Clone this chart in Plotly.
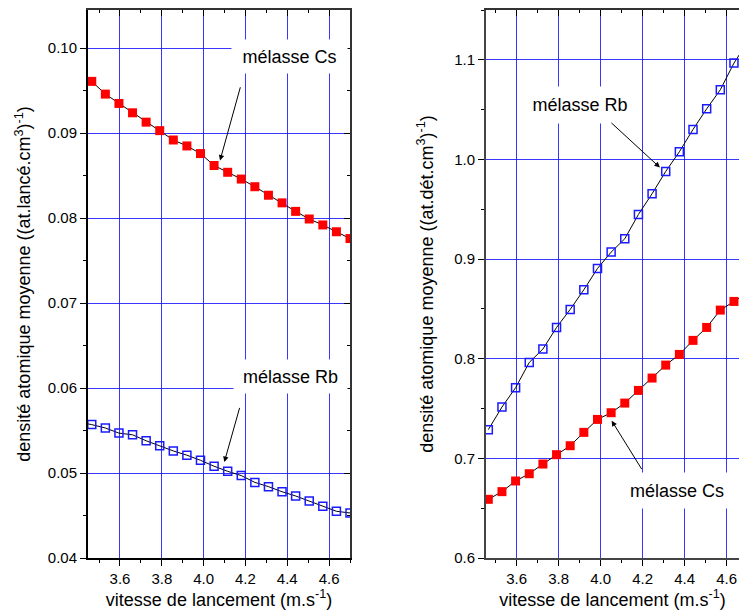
import plotly.graph_objects as go

# ---- data ----
vitesse = [3.465, 3.530, 3.595, 3.660, 3.725, 3.790, 3.855, 3.920, 3.985, 4.050,
           4.115, 4.180, 4.245, 4.310, 4.375, 4.440, 4.505, 4.570, 4.635, 4.700]
vitesse_g = [3.400] + vitesse

# left panel: density per launched atom
cs_lance = [0.0978, 0.0961, 0.0946, 0.0935, 0.0924, 0.0913, 0.0903, 0.0892, 0.0885, 0.0876, 0.0862,
            0.0854, 0.0846, 0.0837, 0.0827, 0.0818, 0.0808, 0.0799, 0.0792, 0.0784, 0.0776]
rb_lance = [0.0560, 0.0557, 0.0553, 0.0547, 0.0545, 0.0538, 0.0532, 0.0526, 0.0521, 0.0515, 0.0508,
            0.0502, 0.0497, 0.0489, 0.0484, 0.0478, 0.0473, 0.0467, 0.0461, 0.0455, 0.0453]

# right panel: density per detected atom
rb_det = [0.7288, 0.7515, 0.7709, 0.7963, 0.8097, 0.8314, 0.8495, 0.8692, 0.8906, 0.9070,
          0.9204, 0.9448, 0.9656, 0.9880, 1.0077, 1.0301, 1.0508, 1.0699, 1.0967, 1.1180]
cs_det = [0.6589, 0.6666, 0.6773, 0.6846, 0.6943, 0.7037, 0.7127, 0.7261, 0.7391, 0.7458,
          0.7555, 0.7682, 0.7806, 0.7936, 0.8043, 0.8184, 0.8314, 0.8488, 0.8575, 0.8660]

x_ticks = [3.6, 3.8, 4.0, 4.2, 4.4, 4.6]
y_ticks_g = [0.04, 0.05, 0.06, 0.07, 0.08, 0.09, 0.10]
y_ticks_d = [0.6, 0.7, 0.8, 0.9, 1.0, 1.1]

FONT = "Liberation Sans, Arial, sans-serif"
RED = "#ff0000"
BLUE = "#1a1aff"
GRID = "rgba(20,20,255,0.85)"

fig = go.Figure()

def add_series(x, y, xa, ya, filled, color):
    fig.add_trace(go.Scatter(
        x=x, y=y, xaxis=xa, yaxis=ya, mode="lines+markers",
        line=dict(color="black", width=1),
        marker=dict(symbol="square" if filled else "square-open", size=9 if filled else 8,
                    color=color, line=dict(color=color, width=0 if filled else 1.5)),
        showlegend=False, cliponaxis=True))

add_series(vitesse_g, cs_lance, "x", "y", True, RED)
add_series(vitesse_g, rb_lance, "x", "y", False, BLUE)
add_series(vitesse, rb_det, "x2", "y2", False, BLUE)
add_series(vitesse, cs_det, "x2", "y2", True, RED)

# dummy traces so the mirror axes are drawn
for xa, ya in [("x3", "y"), ("x", "y3"), ("x4", "y2")]:
    fig.add_trace(go.Scatter(x=[None], y=[None], xaxis=xa, yaxis=ya, showlegend=False,
                             hoverinfo="skip"))

W = 739.0
dom_g = [88 / W, 350 / W]
dom_d = [486 / W, 1.0]
rng_xg = [3.447, 4.700]
rng_xd = [3.454, 4.659]
rng_yg = [0.04, 0.1045]
rng_yd = [0.6, 1.150]

tickfont = dict(family=FONT, size=15, color="black")
titlefont = dict(family=FONT, size=18, color="black")

def xaxis(dom, rng, anchor, linecolor):
    return dict(domain=dom, range=rng, anchor=anchor, tickvals=x_ticks,
                ticktext=[f"{v:.1f}" for v in x_ticks], ticks="outside", ticklen=6,
                tickwidth=1.2, tickcolor="black", tickfont=tickfont,
                minor=dict(dtick=0.1, tick0=3.5, ticks="outside", ticklen=3,
                           tickcolor="black", tickwidth=1.2, showgrid=False),
                showgrid=True, gridcolor=GRID, gridwidth=1, zeroline=False,
                showline=True, linecolor=linecolor, linewidth=2,
                title=dict(text="vitesse de lancement (m.s<sup>-1</sup>)", font=titlefont,
                           standoff=2))

def yaxis(rng, anchor, ticks, fmt, minor_dt, title, linecolor, standoff):
    return dict(domain=[0, 1], range=rng, anchor=anchor, tickvals=ticks,
                ticktext=[fmt.format(v) for v in ticks], ticks="outside", ticklen=6,
                tickwidth=1.2, tickcolor="black", tickfont=tickfont,
                minor=dict(dtick=minor_dt, tick0=rng[0], ticks="outside", ticklen=3,
                           tickcolor="black", tickwidth=1.2, showgrid=False),
                showgrid=True, gridcolor=GRID, gridwidth=1, zeroline=False,
                showline=True, linecolor=linecolor, linewidth=2,
                title=dict(text=title, font=titlefont, standoff=standoff))

def mirror_x(dom, rng, anchor, overlay):
    return dict(domain=dom, range=rng, anchor=anchor, overlaying=overlay, side="top",
                tickvals=x_ticks, showticklabels=False, ticks="inside", ticklen=6,
                tickwidth=1.2, tickcolor="black",
                minor=dict(dtick=0.1, tick0=3.5, ticks="inside", ticklen=3,
                           tickcolor="black", tickwidth=1.2, showgrid=False),
                showgrid=False, zeroline=False, showline=True, linecolor="#333333",
                linewidth=2)

fig.update_layout(
    width=739, height=611,
    margin=dict(l=0, r=0, t=10, b=53),
    paper_bgcolor="white", plot_bgcolor="white",
    font=dict(family=FONT, color="black"),
    xaxis=xaxis(dom_g, rng_xg, "y", "black"),
    yaxis=yaxis(rng_yg, "x", y_ticks_g, "{:.2f}", 0.005,
                "densité atomique moyenne ((at.lancé.cm<sup>3</sup>)<sup>-1</sup>)", "black", 12),
    xaxis2=xaxis(dom_d, rng_xd, "y2", "#444444"),
    yaxis2=yaxis(rng_yd, "x2", y_ticks_d, "{:.1f}", 0.05,
                 "densité atomique moyenne ((at.dét.cm<sup>3</sup>)<sup>-1</sup>)", "#444444", 16),
    xaxis3=mirror_x(dom_g, rng_xg, "y", "x"),
    xaxis4=mirror_x(dom_d, rng_xd, "y2", "x2"),
    yaxis3=dict(domain=[0, 1], range=rng_yg, anchor="x", overlaying="y", side="right",
                tickvals=y_ticks_g, showticklabels=False, ticks="inside", ticklen=6,
                tickwidth=1.2, tickcolor="black",
                minor=dict(dtick=0.005, tick0=0.04, ticks="inside", ticklen=3,
                           tickcolor="black", tickwidth=1.2, showgrid=False),
                showgrid=False, zeroline=False, showline=True, linecolor="#333333",
                linewidth=2),
)

afont = dict(family=FONT, size=18, color="black")

def label(text, x, y, xref, yref, w, h):
    fig.add_annotation(text=text, x=x, y=y, xref=xref, yref=yref, showarrow=False,
                       xanchor="center", yanchor="middle", bgcolor="white",
                       width=w, height=h, borderpad=0, font=afont)

def arrow(x, y, xref, yref, ax, ay):
    fig.add_annotation(text="", x=x, y=y, xref=xref, yref=yref, showarrow=True,
                       ax=ax, ay=ay, arrowhead=2, arrowsize=1.1, arrowwidth=1,
                       arrowcolor="black", standoff=0)

label("mélasse Cs", 4.411, 0.09902, "x", "y", 115, 33)
label("mélasse Rb", 4.4158, 0.06138, "x", "y", 113, 33)
label("mélasse Rb", 3.9014, 1.0548, "x2", "y2", 104, 36)
label("mélasse Cs", 4.3633, 0.66777, "x2", "y2", 108, 35)

arrow(4.0785, 0.08679, "x", "y", 20.7, -74.7)
arrow(4.099, 0.05129, "x", "y", 15.7, -55.7)
arrow(4.2824, 0.99187, "x2", "y2", -50, -46)
arrow(4.0524, 0.73785, "x2", "y2", 31, 50)

fig.write_html("out.html",
               config={"displayModeBar": False},
               post_script="document.body.style.margin='0px';"
                           "document.body.style.overflow='hidden';")
